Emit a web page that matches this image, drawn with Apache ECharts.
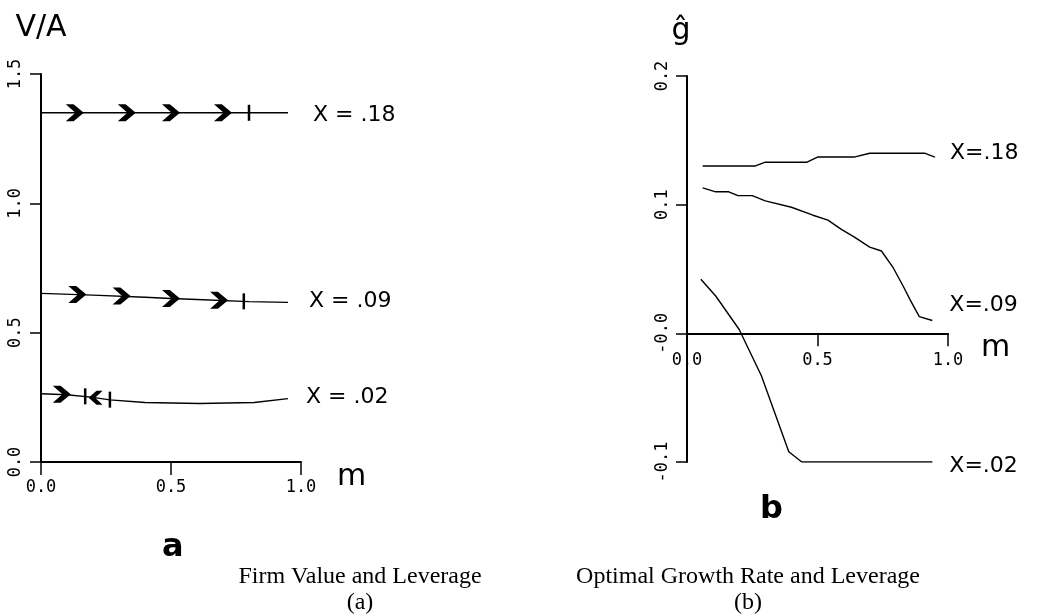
<!DOCTYPE html>
<html>
<head>
<meta charset="utf-8">
<script src="https://cdn.jsdelivr.net/npm/echarts@6/dist/echarts.min.js"></script>
<style>
html,body{margin:0;padding:0;background:#fff;}
#chart{width:1042px;height:614px;}
</style>
</head>
<body>
<div id="chart"></div>
<script>
// ---------- Panel (a): Firm value V/A vs leverage m ----------
const aXTicks = ['0.0', '0.5', '1.0'];
const aYTicks = ['0.0', '0.5', '1.0', '1.5'];
const a18M = [0, 0.3, 0.6, 0.95];
const a18V = [1.35, 1.35, 1.35, 1.35];
const a09M = [0, 0.2, 0.4, 0.5, 0.6, 0.8, 0.95];
const a09V = [0.652, 0.645, 0.637, 0.632, 0.628, 0.620, 0.617];
const a02M = [0, 0.1, 0.2, 0.265, 0.4, 0.61, 0.82, 0.95];
const a02V = [0.264, 0.260, 0.250, 0.240, 0.230, 0.226, 0.230, 0.245];
// arrow (direction) markers and rest points
const a18ArrowsM = [0.13, 0.33, 0.50, 0.70];
const a18ArrowsV = [1.35, 1.35, 1.35, 1.35];
const a18RestM = [0.80];
const a18RestV = [1.35];
const a09ArrowsM = [0.14, 0.31, 0.50, 0.685];
const a09ArrowsV = [0.648, 0.642, 0.632, 0.625];
const a09RestM = [0.78];
const a09RestV = [0.621];
const a02RightM = [0.08];
const a02RightV = [0.262];
const a02LeftM = [0.21];
const a02LeftV = [0.248];
const a02RestM = [0.17, 0.265];
const a02RestV = [0.254, 0.241];

// ---------- Panel (b): optimal growth rate g^ vs leverage m ----------
const bXTicks = ['0.0', '0.5', '1.0'];
const bYTicks = ['-0.1', '-0.0', '0.1', '0.2'];
const b18M = [0.06, 0.26, 0.30, 0.46, 0.50, 0.64, 0.70, 0.91, 0.95];
const b18G = [0.130, 0.130, 0.133, 0.133, 0.137, 0.137, 0.140, 0.140, 0.137];
const b09M = [0.06, 0.11, 0.16, 0.195, 0.25, 0.30, 0.40, 0.48, 0.54, 0.59, 0.64, 0.70, 0.745, 0.79, 0.83, 0.855, 0.89, 0.94];
const b09G = [0.113, 0.110, 0.110, 0.107, 0.107, 0.103, 0.098, 0.092, 0.088, 0.081, 0.075, 0.067, 0.064, 0.051, 0.036, 0.026, 0.013, 0.010];
const b02M = [0.053, 0.11, 0.20, 0.285, 0.39, 0.44, 0.94];
const b02G = [0.042, 0.029, 0.003, -0.033, -0.092, -0.100, -0.100];

const seriesLabels = ['X = .18', 'X = .09', 'X = .02'];
const seriesLabelsB = ['X=.18', 'X=.09', 'X=.02'];

const zip = (xs, ys) => xs.map((x, i) => [x, ys[i]]);
const handFont = 'DejaVu Sans';
const monoFont = 'DejaVu Sans Mono';
const chevron = 'path://M0,0 L6.5,0 L15,7 L6.5,14 L0,14 L8,7 Z';

function tickFmt(list, min, step) {
  return function (v) {
    const idx = Math.round((v - min) / step);
    return list[idx] !== undefined ? list[idx] : '';
  };
}

function lineSeries(xi, yi, data, label, dist, off) {
  return {
    type: 'line', xAxisIndex: xi, yAxisIndex: yi, data: data,
    showSymbol: false, symbol: 'none', smooth: false, silent: true,
    lineStyle: { color: '#000', width: 1.4 },
    endLabel: {
      show: true, formatter: label, distance: dist, offset: off,
      color: '#000', fontSize: 22, fontFamily: handFont
    },
    labelLayout: { hideOverlap: false },
    z: 3
  };
}
function markSeries(xi, yi, data, symbol, size, rotate) {
  return {
    type: 'scatter', xAxisIndex: xi, yAxisIndex: yi, data: data,
    symbol: symbol, symbolSize: size, symbolRotate: rotate || 0, silent: true,
    itemStyle: { color: '#000', opacity: 1 }, z: 4
  };
}

const labelStyle = { color: '#000', fontFamily: monoFont, fontSize: 17 };
const axisLineStyle = { show: true, onZero: false, lineStyle: { color: '#000', width: 2 } };
const tickStyle = { show: true, length: 13, lineStyle: { color: '#000', width: 1.5 } };
const nameStyle = { color: '#000', fontSize: 30, fontFamily: handFont, verticalAlign: 'top', align: 'left' };

// vertical position of the zero line in panel (b), used only to place that x axis
const bGridTop = 76, bGridH = 386, bMin = -0.1, bMax = 0.2;
const bZeroOffset = -bGridH * (0 - bMin) / (bMax - bMin);

const option = {
  backgroundColor: '#fff',
  animation: false,
  grid: [
    { left: 41, top: 74, width: 260, height: 388, containLabel: false },
    { left: 687, top: bGridTop, width: 261, height: bGridH, containLabel: false }
  ],
  xAxis: [
    {
      type: 'value', gridIndex: 0, min: 0, max: 1, interval: 0.5,
      axisLine: axisLineStyle, axisTick: tickStyle, splitLine: { show: false },
      name: 'm', nameLocation: 'end', nameGap: 36, nameTextStyle: nameStyle,
      axisLabel: Object.assign({}, labelStyle, { margin: 17, formatter: tickFmt(aXTicks, 0, 0.5) })
    },
    {
      type: 'value', gridIndex: 1, min: 0, max: 1, interval: 0.5, offset: bZeroOffset,
      axisLine: axisLineStyle, axisTick: tickStyle, splitLine: { show: false },
      name: 'm', nameLocation: 'end', nameGap: 33, nameTextStyle: nameStyle,
      axisLabel: Object.assign({}, labelStyle, { margin: 19, formatter: tickFmt(bXTicks, 0, 0.5) })
    }
  ],
  yAxis: [
    {
      type: 'value', gridIndex: 0, min: 0, max: 1.5, interval: 0.5,
      axisLine: axisLineStyle, splitLine: { show: false },
      name: 'V/A', nameLocation: 'end', nameGap: 31,
      nameTextStyle: { color: '#000', fontSize: 30, fontFamily: handFont, align: 'center' },
      axisTick: { show: true, length: 11, lineStyle: { color: '#000', width: 1.5 } },
      axisLabel: Object.assign({}, labelStyle, { rotate: 90, margin: 17, formatter: tickFmt(aYTicks, 0, 0.5) })
    },
    {
      type: 'value', gridIndex: 1, min: bMin, max: bMax, interval: 0.1,
      axisLine: axisLineStyle, splitLine: { show: false },
      name: 'ĝ', nameLocation: 'end', nameGap: 30,
      nameTextStyle: { color: '#000', fontSize: 30, fontFamily: handFont, align: 'center', padding: [0, 12, 0, 0] },
      axisTick: { show: true, length: 11, lineStyle: { color: '#000', width: 1.5 } },
      axisLabel: Object.assign({}, labelStyle, { rotate: 90, margin: 16, formatter: tickFmt(bYTicks, -0.1, 0.1) })
    }
  ],
  graphic: [
    { type: 'text', left: 162, top: 532, style: { text: 'a', font: 'bold 32px "DejaVu Sans"', fill: '#000' } },
    { type: 'text', left: 760, top: 494, style: { text: 'b', font: 'bold 32px "DejaVu Sans"', fill: '#000' } },
    { type: 'text', x: 360, y: 577, style: { text: 'Firm Value and Leverage', font: '24px "Liberation Serif"', fill: '#000', align: 'center', verticalAlign: 'middle' } },
    { type: 'text', x: 360, y: 603, style: { text: '(a)', font: '24px "Liberation Serif"', fill: '#000', align: 'center', verticalAlign: 'middle' } },
    { type: 'text', x: 748, y: 577, style: { text: 'Optimal Growth Rate and Leverage', font: '24px "Liberation Serif"', fill: '#000', align: 'center', verticalAlign: 'middle' } },
    { type: 'text', x: 748, y: 603, style: { text: '(b)', font: '24px "Liberation Serif"', fill: '#000', align: 'center', verticalAlign: 'middle' } }
  ],
  series: [
    lineSeries(0, 0, zip(a18M, a18V), seriesLabels[0], 25, [0, 2]),
    lineSeries(0, 0, zip(a09M, a09V), seriesLabels[1], 21, [0, -1]),
    lineSeries(0, 0, zip(a02M, a02V), seriesLabels[2], 18, [0, -1]),
    markSeries(0, 0, zip(a18ArrowsM, a18ArrowsV), chevron, [18, 17]),
    markSeries(0, 0, zip(a09ArrowsM, a09ArrowsV), chevron, [18, 17]),
    markSeries(0, 0, zip(a02RightM, a02RightV), chevron, [18, 17]),
    markSeries(0, 0, zip(a02LeftM, a02LeftV), chevron, [14, 14], 180),
    markSeries(0, 0, zip(a18RestM, a18RestV), 'rect', [2.5, 16]),
    markSeries(0, 0, zip(a09RestM, a09RestV), 'rect', [2.5, 16]),
    markSeries(0, 0, zip(a02RestM, a02RestV), 'rect', [2.5, 16]),
    lineSeries(1, 1, zip(b18M, b18G), seriesLabelsB[0], 15, [0, -4]),
    lineSeries(1, 1, zip(b09M, b09G), seriesLabelsB[1], 17, [0, -15]),
    lineSeries(1, 1, zip(b02M, b02G), seriesLabelsB[2], 17, [0, 4])
  ]
};

const chart = echarts.init(document.getElementById('chart'), null, { renderer: 'canvas' });
chart.setOption(option);
</script>
</body>
</html>
